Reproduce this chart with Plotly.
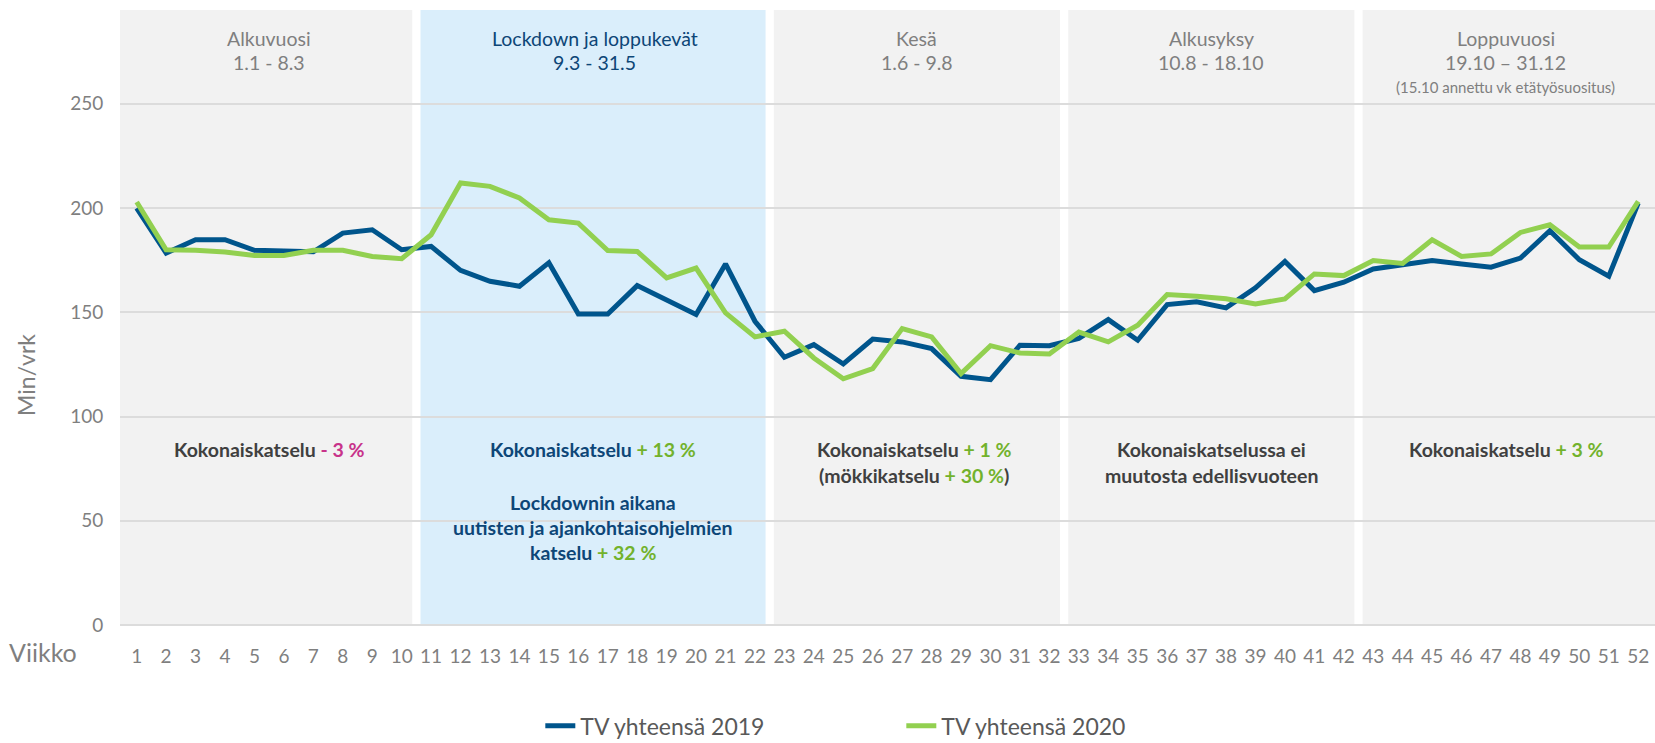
import plotly.graph_objects as go

weeks = list(range(1, 53))
tv_2019 = [200, 178.4, 184.8, 184.8, 179.7, 179.2, 179.0, 188, 189.6, 180,
           181.6, 170.1, 164.9, 162.5, 173.8, 149.2, 149.2, 162.8, 155.8, 148.9,
           173.2, 145.7, 128.4, 134.5, 125.2, 137.2, 135.8, 132.6, 119.3, 117.7,
           134.2, 134.0, 137.5, 146.5, 136.6, 153.7, 155, 152.1, 161.7, 174.4,
           160.4, 164.4, 170.8, 172.8, 174.8, 173.2, 171.6, 176, 189.1, 175.2,
           167.3, 202.4]
tv_2020 = [202.9, 180, 179.7, 178.9, 177.2, 177.2, 179.7, 179.7, 176.8, 175.7,
           187.2, 212, 210.4, 204.8, 194.4, 192.8, 179.6, 179.2, 166.5, 171.2,
           149.7, 138.2, 140.9, 128.1, 118.1, 123, 142.2, 138.2, 120.6, 134,
           130.5, 130, 140.5, 135.8, 143.8, 158.5, 157.7, 156.5, 154, 156.4,
           168.4, 167.6, 174.8, 173.4, 184.8, 176.8, 178, 188.3, 192, 181.3,
           181.3, 203.2]

periods = ["Alkuvuosi", "Lockdown ja loppukevät", "Kesä", "Alkusyksy", "Loppuvuosi"]
period_dates = ["1.1 - 8.3", "9.3 - 31.5", "1.6 - 9.8", "10.8 - 18.10", "19.10 – 31.12"]
period_start = [0.43, 10.5, 22.5, 32.5, 42.5]
period_end = [10.5, 22.5, 32.5, 42.5, 52.6]
period_center = [5.5, 16.55, 27.5, 37.5, 47.5]
period_note = "(15.10 annettu vk etätyösuositus)"

GRAY_TXT = "#7f7f7f"
DARK = "#404040"
BLUE_TXT = "#0d4677"
GREEN_TXT = "#72b22c"
MAGENTA = "#c8338a"
FONT = "Lato"

fig = go.Figure()
fig.add_trace(go.Scatter(x=weeks, y=tv_2019, mode="lines", name="TV yhteensä 2019",
                         line=dict(color="#00558c", width=5)))
fig.add_trace(go.Scatter(x=weeks, y=tv_2020, mode="lines", name="TV yhteensä 2020",
                         line=dict(color="#92d050", width=5)))

gap = 0.14
for i in range(5):
    x0 = period_start[i] + (gap if i > 0 else 0)
    x1 = period_end[i] - (gap if i < 4 else 0)
    fig.add_shape(type="rect", xref="x", yref="y", x0=x0, x1=x1, y0=0, y1=295,
                  fillcolor="#daeefb" if i == 1 else "#f2f2f2", line_width=0, layer="below")

for i in range(5):
    col = BLUE_TXT if i == 1 else GRAY_TXT
    fig.add_annotation(x=period_center[i], y=281.4, text=periods[i], showarrow=False,
                       font=dict(family=FONT, size=19.5, color=col))
    fig.add_annotation(x=period_center[i], y=269.9, text=period_dates[i], showarrow=False,
                       font=dict(family=FONT, size=19.5, color=col))
fig.add_annotation(x=period_center[4], y=258, text=period_note, showarrow=False,
                   font=dict(family=FONT, size=15, color=GRAY_TXT))

def g(t):
    return f"<span style='color:{GREEN_TXT}'>{t}</span>"

bold_font = dict(family=FONT, size=19.5, color=DARK)
blue_font = dict(family=FONT, size=19.5, color=BLUE_TXT)
fig.add_annotation(x=5.5, y=84.4, showarrow=False, font=bold_font,
                   text=f"<b>Kokonaiskatselu <span style='color:{MAGENTA}'>- 3 %</span></b>")
fig.add_annotation(x=16.5, y=84.4, showarrow=False, font=blue_font,
                   text=f"<b>Kokonaiskatselu {g('+ 13 %')}</b>")
fig.add_annotation(x=16.5, y=59, showarrow=False, font=blue_font,
                   text="<b>Lockdownin aikana</b>")
fig.add_annotation(x=16.5, y=46.8, showarrow=False, font=blue_font,
                   text="<b>uutisten ja ajankohtaisohjelmien</b>")
fig.add_annotation(x=16.5, y=34.6, showarrow=False, font=blue_font,
                   text=f"<b>katselu {g('+ 32 %')}</b>")
fig.add_annotation(x=27.4, y=84.4, showarrow=False, font=bold_font,
                   text=f"<b>Kokonaiskatselu {g('+ 1 %')}</b>")
fig.add_annotation(x=27.4, y=71.6, showarrow=False, font=bold_font,
                   text=f"<b>(mökkikatselu {g('+ 30 %')})</b>")
fig.add_annotation(x=37.5, y=84.4, showarrow=False, font=bold_font,
                   text="<b>Kokonaiskatselussa ei</b>")
fig.add_annotation(x=37.5, y=71.6, showarrow=False, font=bold_font,
                   text="<b>muutosta edellisvuoteen</b>")
fig.add_annotation(x=47.5, y=84.4, showarrow=False, font=bold_font,
                   text=f"<b>Kokonaiskatselu {g('+ 3 %')}</b>")

fig.add_annotation(xref="paper", yref="y", x=-0.0612, y=120, text="Min/vrk", textangle=-90,
                   showarrow=False, xanchor="center", yanchor="middle",
                   font=dict(family=FONT, size=23, color=GRAY_TXT))
fig.add_annotation(xref="paper", yref="paper", x=-0.050, y=-0.044, text="Viikko",
                   showarrow=False, xanchor="center", yanchor="middle",
                   font=dict(family=FONT, size=25, color=GRAY_TXT))

fig.update_layout(
    width=1655, height=743,
    margin=dict(l=120, r=0, t=10, b=118),
    plot_bgcolor="white", paper_bgcolor="white",
    font=dict(family=FONT, color=GRAY_TXT),
    showlegend=True,
    legend=dict(orientation="h", x=0.509, xanchor="center", yref="container", y=0.052,
                yanchor="top",
                font=dict(family=FONT, size=23, color="#595959"),
                entrywidth=316, entrywidthmode="pixels",
                bgcolor="rgba(0,0,0,0)"),
    xaxis=dict(range=[0.433, 52.57], tickmode="array", tickvals=weeks,
               ticktext=[str(w) for w in weeks], showgrid=False, zeroline=False,
               ticks="outside", ticklen=14, tickcolor="rgba(0,0,0,0)",
               tickfont=dict(family=FONT, size=19, color=GRAY_TXT), showline=False),
    yaxis=dict(range=[0, 295], tickvals=[0, 50, 100, 150, 200, 250], showgrid=True,
               gridcolor="#dcdcdc", gridwidth=2, zeroline=True, zerolinecolor="#dcdcdc",
               zerolinewidth=2, ticks="outside", ticklen=12, tickcolor="rgba(0,0,0,0)",
               tickfont=dict(family=FONT, size=19, color=GRAY_TXT), showline=False),
)

fig.write_html("out.html", config={"displayModeBar": False},
               post_script="document.body.style.margin='0px';document.body.style.overflow='hidden';")
